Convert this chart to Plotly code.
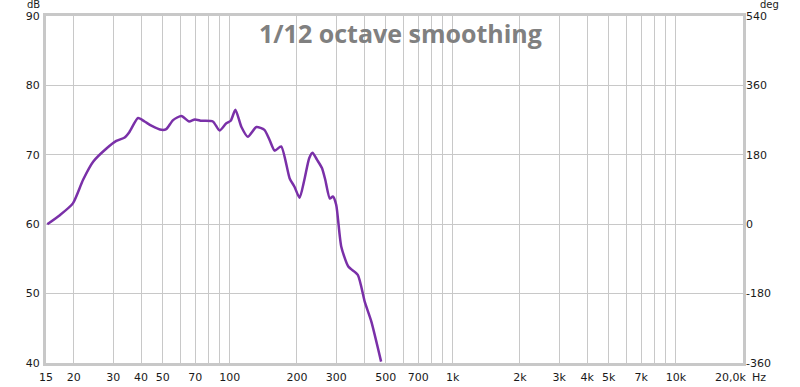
import plotly.graph_objects as go

freq_hz = [15.2, 17.3, 19.8, 22, 24.4, 28, 31, 33.8, 35.5, 38.8, 41.5, 44.5, 49.4, 51.9, 55.7,
           60.7, 65.7, 69.7, 74.8, 84, 90, 96.2, 101, 106, 112.8, 120.5, 131.7, 143, 151, 159,
           170, 185.6, 195, 205.6, 216, 227, 235, 246, 259, 268, 281, 290, 300, 316, 340, 375,
           403, 431, 477]
spl_db = [60.0, 61.3, 63.0, 66.4, 69.0, 70.9, 72.0, 72.5, 73.3, 75.3, 74.8, 74.2, 73.6, 73.7, 75.0,
          75.6, 74.8, 75.1, 74.9, 74.8, 73.5, 74.5, 74.9, 76.5, 74.0, 72.6, 74.0, 73.6, 72.1, 70.6,
          71.2, 66.6, 65.4, 63.8, 66.4, 69.5, 70.3, 69.3, 68.1, 66.4, 63.7, 64.0, 62.8, 56.8, 53.9, 52.7,
          48.8, 46.0, 40.2]

x_tick_vals = [15, 20, 30, 40, 50, 60, 70, 80, 90, 100, 200, 300, 400, 500, 600, 700, 800, 900,
               1000, 2000, 3000, 4000, 5000, 6000, 7000, 8000, 9000, 10000]
x_tick_text = ["15", "20", "30", "40", "50", "", "70", "", "", "100", "200", "300", "", "500", "",
               "700", "", "", "1k", "2k", "3k", "4k", "5k", "", "7k", "", "", "10k"]
y_tick_vals = [40, 50, 60, 70, 80, 90]
deg_tick_vals = [-360, -180, 0, 180, 360, 540]
deg_tick_text = ["-360", "-180", "0", "180", "360", "540"]

TITLE = "1/12 octave smoothing"
GRID = "#c8c8c8"
FONT = dict(family="DejaVu Sans", size=11, color="#1a1a1a")

fig = go.Figure()
fig.add_trace(go.Scatter(x=freq_hz, y=spl_db, mode="lines",
                         line=dict(color="#7a30a8", width=2.5, shape="spline", smoothing=0.6),
                         showlegend=False, hoverinfo="skip"))
fig.add_trace(go.Scatter(x=[1000], y=[0], yaxis="y2", mode="markers",
                         marker=dict(opacity=0), showlegend=False, hoverinfo="skip"))

fig.update_layout(
    width=800, height=387,
    margin=dict(l=46, r=57, t=16, b=24, autoexpand=False),
    paper_bgcolor="white", plot_bgcolor="white",
    font=FONT,
    xaxis=dict(type="log", range=[1.17609, 4.30103], tickvals=x_tick_vals, ticktext=x_tick_text,
               showgrid=True, gridcolor=GRID, gridwidth=1, zeroline=False, automargin=False,
               showline=True, linecolor=GRID, linewidth=3, mirror=True,
               ticks="", tickfont=FONT, ticklabelstandoff=2),
    yaxis=dict(range=[40, 90], tickvals=y_tick_vals, showgrid=True, gridcolor=GRID, gridwidth=1,
               zeroline=False, showline=True, linecolor=GRID, linewidth=3, mirror=True,
               automargin=False, ticks="", tickfont=FONT, ticklabelstandoff=1),
    yaxis2=dict(range=[-360, 540], tickvals=deg_tick_vals, ticktext=deg_tick_text,
                overlaying="y", side="right", automargin=False,
                showgrid=False, zeroline=False, showline=False, ticks="", tickfont=FONT,
                ticklabelstandoff=2),
    annotations=[
        dict(text=TITLE, x=0.5, y=33, xref="paper", yref="paper", showarrow=False,
             font=dict(family="Open Sans", size=25, color="#808080", weight="bold")),
        dict(text="dB", x=33, y=11, xref="paper", yref="paper", showarrow=False,
             font=dict(family="DejaVu Sans", size=10, color="#1a1a1a")),
        dict(text="deg", x=769, y=11, xref="paper", yref="paper", showarrow=False,
             font=dict(family="DejaVu Sans", size=10, color="#1a1a1a")),
        dict(text="20,0k", x=730, y=377, xref="paper", yref="paper", showarrow=False, font=FONT),
        dict(text="Hz", x=759, y=377, xref="paper", yref="paper", showarrow=False, font=FONT),
    ],
)

# convert pixel annotation positions to paper coordinates
pw, ph = 800 - 46 - 57, 387 - 16 - 24
for a in fig.layout.annotations:
    if a.text == TITLE:
        a.x = (400 - 46) / pw
        a.yanchor = "middle"
    elif a.text in ("dB", "deg"):
        a.x = (a.x - 46) / pw
        a.yanchor = "bottom"
    else:
        a.x = (a.x - 46) / pw
        a.yanchor = "middle"
    a.y = 1 - (a.y - 16) / ph
    a.xanchor = "center"
    a.borderpad = 0

fig.write_html("out.html")
